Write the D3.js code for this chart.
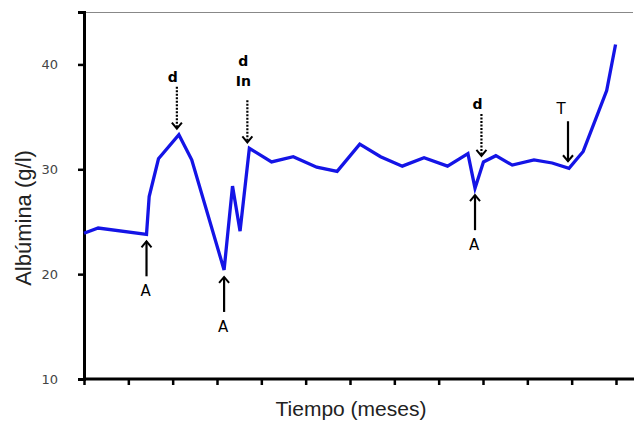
<!DOCTYPE html>
<html><head><meta charset="utf-8">
<script src="https://cdn.jsdelivr.net/npm/d3@7"></script>
<style>body{margin:0;background:#fff}svg{display:block}</style>
</head><body>
<svg id="c" width="634" height="422"></svg>
<script>
const months = [0,0.32,1.41,1.47,1.68,2.14,2.43,3.16,3.35,3.52,3.73,4.23,4.72,5.25,5.71,6.22,6.69,7.18,7.67,8.20,8.66,8.82,9.01,9.29,9.66,10.15,10.56,10.94,11.26,11.79,11.99];
const albumin = [23.9,24.4,23.8,27.4,31.0,33.3,30.9,20.4,28.4,24.1,32.0,30.7,31.2,30.2,29.8,32.4,31.2,30.3,31.1,30.3,31.5,28.2,30.7,31.3,30.4,30.9,30.6,30.1,31.7,37.5,41.9];
const yTicks = [10,20,30,40];
const xTicks = [0,1,2,3,4,5,6,7,8,9,10,11,12];
// annotations: label lines, x (months), value pointed at, arrow type
const annLabels = [["d"],["d","In"],["A"],["A"],["d"],["A"],["T"]];
const annX = [2.14,3.73,1.41,3.16,9.01,8.82,10.94];
const annY = [33.3,32.0,23.8,20.4,30.7,28.2,30.1];
const annKind = ["dotdown","dotdown","up","up","dotdown","up","down"];

const svg = d3.select("#c");
const x = d3.scaleLinear().domain([0,12]).range([84,616]);
const y = d3.scaleLinear().domain([10,45]).range([379,12]);

// top frame line
svg.append("line").attr("x1",84).attr("x2",633).attr("y1",12.5).attr("y2",12.5)
  .attr("stroke","#888").attr("stroke-width",1.2);

const yAx = svg.append("g").attr("transform","translate(84,0)")
  .call(d3.axisLeft(y).tickValues(yTicks).tickSize(6).tickPadding(20));
yAx.select(".domain").attr("stroke","#000").attr("stroke-width",3);
yAx.selectAll(".tick line").attr("stroke","#000").attr("stroke-width",2.5);
yAx.selectAll(".tick text").attr("font-family","DejaVu Sans, Verdana, sans-serif")
  .attr("font-size",13).attr("fill","#444").attr("dy","0.35em");

const xAx = svg.append("g").attr("transform","translate(0,379)")
  .call(d3.axisBottom(x).tickValues(xTicks).tickSize(6).tickFormat(""));
xAx.select(".domain").attr("stroke","#000").attr("stroke-width",3).attr("d","M84,0H634");
xAx.selectAll(".tick line").attr("stroke","#000").attr("stroke-width",2.5);

svg.append("text").attr("transform","translate(31,218) rotate(-90)")
  .attr("text-anchor","middle").attr("font-family","Liberation Sans, Arial, sans-serif")
  .attr("font-size",22).attr("fill","#222").text("Albúmina (g/l)");
svg.append("text").attr("x",351).attr("y",416).attr("text-anchor","middle")
  .attr("font-family","Liberation Sans, Arial, sans-serif")
  .attr("font-size",21).attr("fill","#222").text("Tiempo (meses)");

const line = d3.line().x((d,i)=>x(months[i])).y(d=>y(d));
svg.append("path").datum(albumin).attr("d",line).attr("fill","none")
  .attr("stroke","#1414e6").attr("stroke-width",3.3).attr("stroke-linejoin","miter");

// arrows
const g = svg.append("g");
function head(px,py,dir){
  g.append("path").attr("d",`M${px-5},${py-6*dir}L${px},${py}L${px+5},${py-6*dir}`)
    .attr("fill","none").attr("stroke","#000").attr("stroke-width",2);
}
const font = "DejaVu Sans, Verdana, sans-serif";
annKind.forEach((k,i)=>{
  const px = x(annX[i]) + (k==="up"?0:(k==="down"?-1:-2));
  const py = y(annY[i]);
  const lab = annLabels[i];
  if(k==="dotdown"){
    const tip = py-6, top = tip-42;
    g.append("line").attr("x1",px).attr("x2",px).attr("y1",top).attr("y2",tip-1)
      .attr("stroke","#000").attr("stroke-width",2.2).attr("stroke-dasharray","2,1.5");
    head(px,tip,1);
    const base = lab.length>1 ? top-14 : top-5;
    lab.forEach((t,j)=>{
      g.append("text").attr("x",px-4).attr("y",base-(lab.length-1-j)*20)
        .attr("text-anchor","middle").attr("font-family",font).attr("font-weight","bold")
        .attr("font-size",14).text(t);
    });
  } else if(k==="up"){
    const tip = py+7, bot = tip+35;
    g.append("line").attr("x1",px).attr("x2",px).attr("y1",tip).attr("y2",bot)
      .attr("stroke","#000").attr("stroke-width",2.2);
    head(px,tip,-1);
    g.append("text").attr("x",px-1).attr("y",bot+20).attr("text-anchor","middle")
      .attr("font-family",font).attr("font-size",15).text(lab[0]);
  } else {
    const tip = py-7, top = tip-40;
    g.append("line").attr("x1",px).attr("x2",px).attr("y1",top).attr("y2",tip)
      .attr("stroke","#000").attr("stroke-width",2.2);
    head(px,tip,1);
    g.append("text").attr("x",px-7).attr("y",top-7).attr("text-anchor","middle")
      .attr("font-family",font).attr("font-size",15).attr("fill","#000").text(lab[0]);
  }
});
</script>
</body></html>
